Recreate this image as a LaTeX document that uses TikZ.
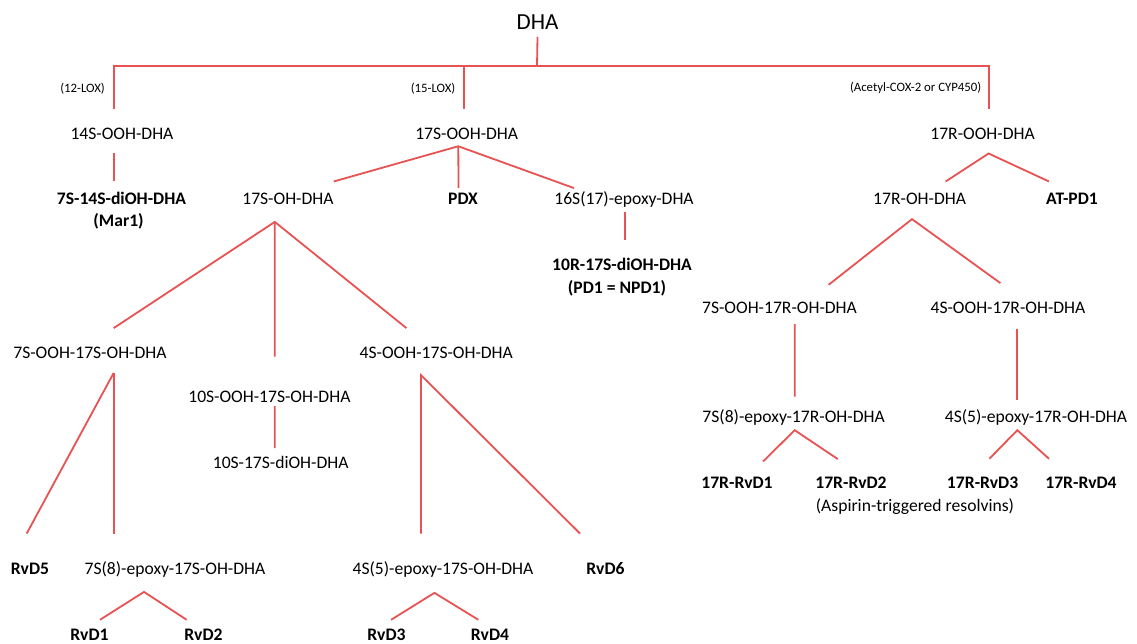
\documentclass[tikz,border=0pt]{standalone}
\usepackage{fontspec}
\setmainfont{Carlito}
\usepackage{xcolor}
\usepackage{tikz}

\definecolor{linkred}{RGB}{232,82,82}

\begin{document}
\begin{tikzpicture}[x=1pt, y=-1pt,
    link/.style={draw=linkred, line width=1.8pt},
    cmpd/.style={inner sep=0pt, text height=11.3pt, text depth=0pt, font=\fontsize{17.6}{21}\selectfont},
    prod/.style={cmpd, font=\fontsize{17.6}{21}\selectfont\bfseries},
    enz/.style={inner sep=0pt, anchor=east, font=\fontsize{12.8}{15}\selectfont}]

    \useasboundingbox (0,0) rectangle (1137,644);

    % Parent and the three enzyme routes
    \node[inner sep=0pt, text height=14.8pt, text depth=0pt, font=\fontsize{23}{27}\selectfont] (dha) at (537.5, 22.5) {DHA};
    \node[enz] (lox12) at (105, 88.3) {(12-LOX)};
    \node[enz] (lox15) at (455.5, 88.3) {(15-LOX)};
    \node[enz] (acox) at (981.5, 88.3) {(Acetyl-COX-2 or CYP450)};
    \coordinate (split) at (537, 65.7);

    % Hydroperoxides
    \node[cmpd] (ooh14) at (122, 133.5) {14S-OOH-DHA};
    \node[cmpd] (ooh17s) at (466.7, 133.5) {17S-OOH-DHA};
    \node[cmpd] (ooh17r) at (982.6, 133.5) {17R-OOH-DHA};

    % Second row
    \node[prod] (mar1) at (121.5, 199.3) {7S-14S-diOH-DHA};
    \node[prod] (mar1b) at (118.6, 221) {(Mar1)};
    \node[cmpd] (oh17s) at (288, 199.3) {17S-OH-DHA};
    \node[prod] (pdx) at (463, 199.3) {PDX};
    \node[cmpd] (epo16) at (624, 199.3) {16S(17)-epoxy-DHA};
    \node[cmpd] (oh17r) at (919.6, 199.3) {17R-OH-DHA};
    \node[prod] (atpd1) at (1072, 199.3) {AT-PD1};
    \node[prod] (pd1) at (622, 265) {10R-17S-diOH-DHA};
    \node[prod] (pd1b) at (617, 288) {(PD1 = NPD1)};

    % 17S branch
    \node[cmpd] (ooh7s) at (90, 353.3) {7S-OOH-17S-OH-DHA};
    \node[cmpd] (ooh4s) at (436.3, 353.3) {4S-OOH-17S-OH-DHA};
    \node[cmpd] (ooh10s) at (269.4, 396.7) {10S-OOH-17S-OH-DHA};
    \node[cmpd] (dioh10s) at (280.7, 463.3) {10S-17S-diOH-DHA};
    \node[prod] (rvd5) at (30, 569) {RvD5};
    \node[cmpd] (epo7s) at (175, 569) {7S(8)-epoxy-17S-OH-DHA};
    \node[cmpd] (epo4s) at (443, 569) {4S(5)-epoxy-17S-OH-DHA};
    \node[prod] (rvd6) at (605.5, 569) {RvD6};
    \node[prod] (rvd1) at (89.5, 635) {RvD1};
    \node[prod] (rvd2) at (203.5, 635) {RvD2};
    \node[prod] (rvd3) at (386.5, 635) {RvD3};
    \node[prod] (rvd4) at (490, 635) {RvD4};

    % 17R branch
    \node[cmpd] (ooh7r) at (779.5, 308.3) {7S-OOH-17R-OH-DHA};
    \node[cmpd] (ooh4r) at (1008, 308.3) {4S-OOH-17R-OH-DHA};
    \node[cmpd] (epo7r) at (793.6, 417) {7S(8)-epoxy-17R-OH-DHA};
    \node[cmpd] (epo4r) at (1036, 417) {4S(5)-epoxy-17R-OH-DHA};
    \node[prod] (rvd1r) at (737, 483.3) {17R-RvD1};
    \node[prod] (rvd2r) at (851, 483.3) {17R-RvD2};
    \node[prod] (rvd3r) at (982.6, 483.3) {17R-RvD3};
    \node[prod] (rvd4r) at (1081, 483.3) {17R-RvD4};
    \node[cmpd, anchor=west, text height=12pt] (aspirin) at (815.7, 505.5) {(Aspirin-triggered resolvins)};

    % Lines from DHA
    \draw[link] ([yshift=-6.8pt]dha.south) -- (split);
    \draw[link] ([xshift=-8.3pt, yshift=18.85pt]ooh14.north) |- (split) -| ([xshift=6pt, yshift=18.85pt]ooh17r.north);
    \draw[link] ([xshift=-2.7pt, yshift=18.85pt]ooh17s.north) |- (split);

    % Lines below the hydroperoxides
    \draw[link] ([xshift=-8.3pt, yshift=-13.85pt]ooh14.south) -- ([xshift=-7.8pt, yshift=11.95pt]mar1.north);
    \path ([xshift=-8.4pt, yshift=-6.9pt]ooh17s.south) coordinate (fork17s);
    \draw[link] ([yshift=12pt]oh17s.north east) -- (fork17s) -- ([xshift=-50pt, yshift=5.35pt]epo16.north);
    \draw[link] (fork17s) -- ([xshift=-4.5pt, yshift=5.35pt]pdx.north);
    \path ([xshift=6pt, yshift=-14.15pt]ooh17r.south) coordinate (fork17r);
    \draw[link] ([xshift=26pt, yshift=11.95pt]oh17r.north) -- (fork17r) -- ([xshift=-23pt, yshift=11.95pt]atpd1.north);
    \draw[link] ([xshift=1pt, yshift=-6.75pt]epo16.south) -- ([xshift=3pt, yshift=18.65pt]pd1.north);

    % 17S-OH-DHA and what follows
    \path ([xshift=-13.2pt, yshift=-16.75pt]oh17s.south) coordinate (forkoh);
    \draw[link] ([xshift=23.7pt, yshift=19.35pt]ooh7s.north) -- (forkoh) -- ([xshift=-29.9pt, yshift=19.35pt]ooh4s.north);
    \draw[link] (forkoh) -- ([xshift=5.4pt, yshift=34.35pt]ooh10s.north);
    \draw[link] ([xshift=5.4pt, yshift=-3.65pt]ooh10s.south) -- ([xshift=-5.9pt, yshift=9.35pt]dioh10s.north);
    \path ([xshift=23.7pt, yshift=-13.75pt]ooh7s.south) coordinate (fork7s);
    \draw[link] ([xshift=-3.3pt, yshift=29.65pt]rvd5.north) -- (fork7s);
    \draw[link] (fork7s) -- ([xshift=-61.3pt, yshift=29.65pt]epo7s.north);
    \path ([xshift=-15.3pt, yshift=-16pt]ooh4s.south) coordinate (fork4s);
    \draw[link] ([xshift=-22pt, yshift=29.65pt]epo4s.north) -- (fork4s) -- ([xshift=-25.5pt, yshift=29.65pt]rvd6.north);
    \path ([xshift=-31pt, yshift=-17.05pt]epo7s.south) coordinate (forkep7s);
    \draw[link] ([xshift=10.5pt, yshift=9.35pt]rvd1.north) -- (forkep7s) -- ([xshift=-16.8pt, yshift=9.35pt]rvd2.north);
    \path ([xshift=-8.6pt, yshift=-18pt]epo4s.south) coordinate (forkep4s);
    \draw[link] ([xshift=4.6pt, yshift=9.35pt]rvd3.north) -- (forkep4s) -- ([xshift=-11.6pt, yshift=9.35pt]rvd4.north);

    % 17R-OH-DHA and what follows
    \path ([xshift=-7.6pt, yshift=-14pt]oh17r.south) coordinate (forkohr);
    \draw[link] ([xshift=49.1pt, yshift=17.65pt]ooh7r.north) -- (forkohr) -- ([xshift=-7.6pt, yshift=19.35pt]ooh4r.north);
    \draw[link] ([xshift=15.2pt, yshift=-10pt]ooh7r.south) -- ([xshift=1.1pt, yshift=14.65pt]epo7r.north);
    \draw[link] ([xshift=9.3pt, yshift=-14.35pt]ooh4r.south) -- ([xshift=-18.7pt, yshift=11.35pt]epo4r.north);
    \path ([xshift=1.1pt, yshift=-7.35pt]epo7r.south) coordinate (forkep7r);
    \draw[link] ([xshift=26pt, yshift=15.95pt]rvd1r.north) -- (forkep7r) -- ([xshift=-13.2pt, yshift=18.35pt]rvd2r.north);
    \path ([xshift=-18.7pt, yshift=-7.35pt]epo4r.south) coordinate (forkep4r);
    \draw[link] ([xshift=6.7pt, yshift=18.65pt]rvd3r.north) -- (forkep4r) -- ([xshift=-32pt, yshift=18.65pt]rvd4r.north);

\end{tikzpicture}
\end{document}
